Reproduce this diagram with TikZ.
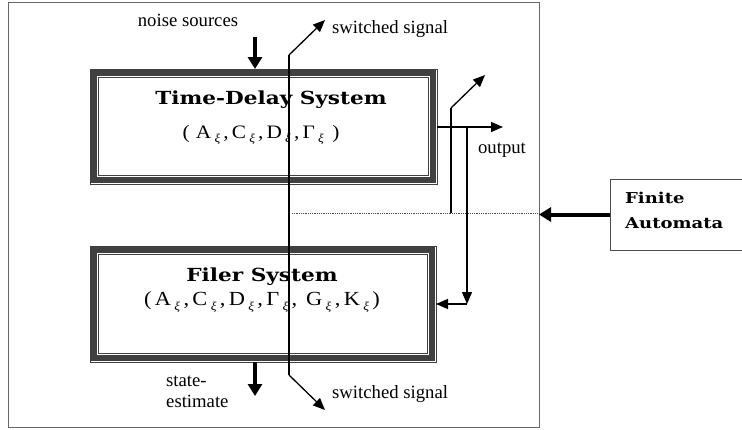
\documentclass[tikz,border=0pt]{standalone}
\usepackage{fontspec}
\setmainfont{Liberation Serif}
\newfontfamily\dvs{DejaVu Serif}[FakeStretch=1.2]
\newfontfamily\prmfont{Liberation Serif}[FakeStretch=1.12]
\usetikzlibrary{arrows.meta,calc}
\newcommand{\xs}{\,\raisebox{-0.55ex}{\fontsize{12}{12}\selectfont\itshape ξ}}
\begin{document}
\begin{tikzpicture}[x=1pt,y=-1pt,
  lbl/.style={font=\fontsize{18.7}{20}\selectfont, inner sep=0pt},
  ttl/.style={font=\dvs\bfseries\fontsize{18}{20}\selectfont, inner sep=0pt},
  prm/.style={font=\prmfont\fontsize{19}{22}\selectfont, inner sep=0pt},
  sysbox/.style={draw=black!75, line width=0.9pt, outer sep=0pt, inner sep=0pt,
    path picture={
      \draw[line width=5.6pt] ([shift={(4.2pt,-4.2pt)}]path picture bounding box.north west)
        rectangle ([shift={(-4.2pt,4.2pt)}]path picture bounding box.south east);
      \draw[line width=1.2pt] ([shift={(8.3pt,-8.3pt)}]path picture bounding box.north west)
        rectangle ([shift={(-8.3pt,8.3pt)}]path picture bounding box.south east);
    }},
  arr/.style={line width=1.3pt, -{Triangle[length=12pt,width=10pt]}},
  bigarr/.style={line width=4pt, -{Triangle[length=12pt,width=14pt]}},
  ln/.style={line width=1.3pt}
]
\useasboundingbox (0,0) rectangle (742,429);
% outer frame
\node[draw=black!60, line width=1pt, minimum width=531pt, minimum height=425pt, inner sep=0pt, outer sep=0pt] (frame) at (273.5,214.5) {};
% boxes
\node[sysbox, minimum width=347pt, minimum height=115pt] (td) at (263.5,126.5) {};
\node[sysbox, minimum width=346pt, minimum height=116pt] (fs) at (263,304) {};
\node[ttl] (tdt) at (271,100) {Time-Delay System};
\node[prm] (tdp) at (261,135) {(\,\,A\xs\,,\,C\xs\,,\,D\xs\,,\,Γ\xs\ \,)};
\node[ttl] (fst) at (262,277) {Filer System};
\node[prm, font=\prmfont\fontsize{20}{22}\selectfont] (fsp) at (262,302) {(\,A\xs\,,\,C\xs\,,\,D\xs\,,\,Γ\xs\,, \,G\xs\,,\,K\xs\,)};
% finite automata
\node[draw=black!70, line width=1pt, minimum width=140pt, minimum height=71pt, inner sep=0pt, outer sep=0pt] (fa) at (680,214.5) {};
\node[ttl, align=left, anchor=west, font=\dvs\bfseries\fontsize{15}{25}\selectfont] (fat) at (625,210) {Finite\\Automata};
% noise
\node[lbl] (noise) at (188,20) {noise sources};
\coordinate (nz) at (255,37);
\draw[bigarr] (nz) -- (nz |- td.north);
% state estimate
\node[lbl, align=left, anchor=west, font=\fontsize{18.7}{21}\selectfont] (se) at (166,392) {state-\\estimate};
\draw[bigarr] (fs.south -| nz) -- ++(0,34) coordinate (seend);
% switched signal
\coordinate (swa) at (289,55);
\coordinate (swb) at (289,375);
\coordinate (swat) at (325,20);
\coordinate (swbt) at (325,410);
\draw[ln] (swa) -- (swb);
\draw[arr] (swa) -- (swat);
\draw[arr] (swb) -- (swbt);
\node[lbl, anchor=west] (sw1) at (332,29) {switched signal};
\node[lbl, anchor=west] (sw2) at (332,394) {switched signal};
% output
\coordinate (out) at (503,127);
\draw[arr] (td.east |- out) -- (out);
\node[lbl] (outl) at (502,150) {output};
% dotted line
\coordinate (dl) at (292,213);
\draw[densely dotted, line width=0.8pt, black!70] (dl) -- (dl -| frame.east);
% verticals
\coordinate (v1b) at (451,213);
\coordinate (v1t) at (451,108);
\coordinate (v1a) at (485,75);
\draw[ln] (v1b) -- (v1t);
\draw[arr] (v1t) -- (v1a);
\coordinate (v2t) at (467,127);
\coordinate (v2b) at (467,304);
\draw[arr] (v2t) -- (v2b);
\draw[arr] (v2b) -- (fs.east |- v2b);
% finite automata arrow
\draw[bigarr] (fa.west) -- (fa.west -| frame.east);
\end{tikzpicture}
\end{document}
